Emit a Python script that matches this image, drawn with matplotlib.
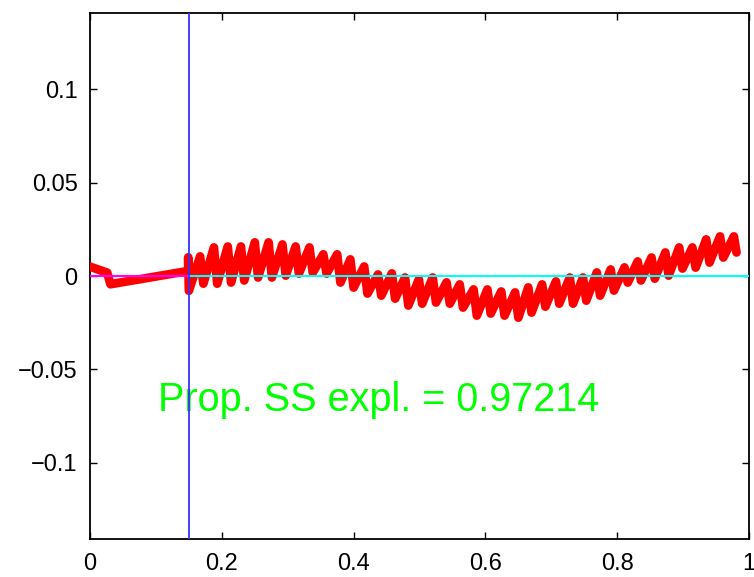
import matplotlib

matplotlib.use("Agg")
import matplotlib.pyplot as plt
import numpy as np

plt.rcParams["font.family"] = ["Liberation Sans", "DejaVu Sans"]

# lead-in segment before the marker at x = 0.15
lead_x = [0.000, 0.026, 0.031, 0.149, 0.149, 0.150]
lead_y = [0.0050, 0.0018, -0.0044, 0.0027, 0.0100, -0.0079]

# sawtooth peaks and the troughs right after each drop
peak_x = [0.167, 0.188, 0.209, 0.229, 0.250, 0.271, 0.292, 0.312, 0.333, 0.354,
          0.375, 0.395, 0.416, 0.437, 0.458, 0.478, 0.499, 0.520, 0.541, 0.561,
          0.582, 0.603, 0.624, 0.645, 0.665, 0.686, 0.707, 0.728, 0.748, 0.769,
          0.790, 0.811, 0.831, 0.852, 0.873, 0.894, 0.914, 0.935, 0.956, 0.977]
peak_y = [0.0105, 0.0153, 0.0158, 0.0158, 0.0180, 0.0180, 0.0169, 0.0158, 0.0153, 0.0116,
          0.0116, 0.0089, 0.0051, 0.0008, 0.0014, -0.0008, -0.0018, -0.0008, -0.0034, -0.0045,
          -0.0072, -0.0072, -0.0083, -0.0088, -0.0061, -0.0045, -0.0029, -0.0008, -0.0008, 0.0019,
          0.0035, 0.0046, 0.0078, 0.0099, 0.0126, 0.0153, 0.0153, 0.0196, 0.0212, 0.0212]
trough_x = [0.172, 0.193, 0.214, 0.234, 0.255, 0.276, 0.297, 0.317, 0.338, 0.359,
            0.380, 0.400, 0.421, 0.442, 0.463, 0.483, 0.504, 0.525, 0.546, 0.566,
            0.587, 0.608, 0.629, 0.650, 0.670, 0.691, 0.712, 0.733, 0.753, 0.774,
            0.795, 0.816, 0.836, 0.857, 0.878, 0.899, 0.919, 0.940, 0.961, 0.981]
trough_y = [-0.0041, -0.0041, -0.0035, -0.0024, -0.0008, -0.0008, 0.0002, 0.0013, 0.0018, 0.0013,
            -0.0035, -0.0062, -0.0094, -0.0105, -0.0121, -0.0158, -0.0148, -0.0142, -0.0148, -0.0169,
            -0.0212, -0.0201, -0.0212, -0.0223, -0.0196, -0.0164, -0.0148, -0.0148, -0.0132, -0.0105,
            -0.0078, -0.0035, -0.0024, -0.0014, 0.0002, 0.0040, 0.0045, 0.0072, 0.0099, 0.0126]

split_x = 0.15
prop_ss = 0.97214

xticks = [0, 0.2, 0.4, 0.6, 0.8, 1]
xtick_labels = ["0", "0.2", "0.4", "0.6", "0.8", "1"]
yticks = [-0.1, -0.05, 0, 0.05, 0.1]
ytick_labels = ["\u22120.1", "\u22120.05", "0", "0.05", "0.1"]

# interleave peaks and troughs into one trace
saw_x = [v for pair in zip(peak_x, trough_x) for v in pair]
saw_y = [v for pair in zip(peak_y, trough_y) for v in pair]
line_x = lead_x + saw_x
line_y = lead_y + saw_y

fig = plt.figure(figsize=(7.54, 5.77), dpi=100)
ax = fig.add_axes([0.1194, 0.0653, 0.874, 0.9127])

ax.plot(line_x, line_y, color="#ff0000", lw=6.3, solid_joinstyle="round",
        solid_capstyle="round", zorder=3)
ax.plot([0, split_x], [0, 0], color="#ff00ff", lw=1.5, zorder=4)
ax.plot([split_x, 1], [0, 0], color="#00ffff", lw=1.5, zorder=4)
ax.axvline(split_x, color="#3333ff", lw=1.3, zorder=5)

ax.text(0.1037, -0.0723, f"Prop. SS expl. = {prop_ss}", color="#00ff00",
        fontsize=28.5, va="baseline", ha="left", zorder=2)

ax.set_xlim(0, 1)
ax.set_ylim(-0.141, 0.141)
ax.set_xticks(xticks)
ax.set_xticklabels(xtick_labels)
ax.set_yticks(yticks)
ax.set_yticklabels(ytick_labels)
ax.tick_params(direction="in", length=5, width=1, labelsize=17,
               top=True, right=True, colors="black")
ax.tick_params(axis="x", pad=10)
ax.tick_params(axis="y", pad=9)
for s in ax.spines.values():
    s.set_linewidth(1.3)

fig.savefig("out.png", dpi=100)
